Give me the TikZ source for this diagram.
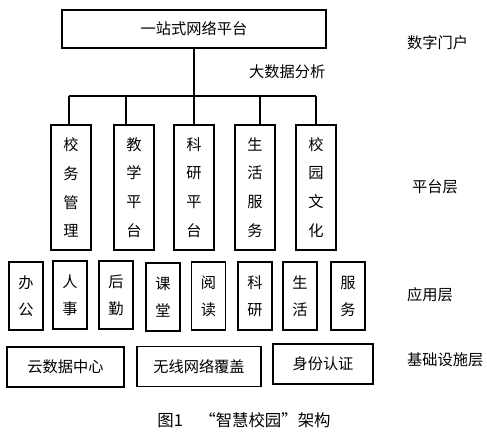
\documentclass[tikz,border=0pt]{standalone}
\usepackage{fontspec}
\setmainfont{Noto Sans CJK SC}
\usetikzlibrary{positioning}

\begin{document}
\begin{tikzpicture}[
    x=0.03cm, y=-0.03cm,
    font=\fontsize{13}{15}\selectfont,
    portal/.style={draw, line width=1pt, minimum width=7.92cm, minimum height=1.14cm, inner sep=0pt},
    plat/.style={draw, line width=1pt, minimum width=1.2cm, minimum height=3.75cm, align=center, inner sep=0pt, font=\fontsize{13}{24.6}\selectfont},
    app/.style={draw, line width=1pt, minimum width=1.02cm, minimum height=2.04cm, align=center, inner sep=0pt, font=\fontsize{13}{23}\selectfont},
    infra/.style={draw, line width=1pt, minimum height=1.2cm, inner sep=0pt},
    layer/.style={anchor=west},
    link/.style={line width=1pt},
]
\useasboundingbox (0,0) rectangle (487,435);

% --- Digital portal ---
\node[portal] (portal) at (194,29) {一站式网络平台};
\node[layer] (lportal) at (403,43) {数字门户};

% --- Big data bus ---
\coordinate (bus) at (194,96);
\coordinate (d1) at (69,96);
\coordinate (d2) at (126,96);
\coordinate (d3) at (194,96);
\coordinate (d4) at (260,96);
\coordinate (d5) at (316,96);
\draw[link] (portal.south) -- (bus);
\draw[link] (d1) -- (d5);
\node[layer] (bigdata) at (245,72) {大数据分析};

% --- Platform layer ---
\node[plat] (p1) at (71,187.5) {校\\务\\管\\理};
\node[plat] (p2) at (134,187.5) {教\\学\\平\\台};
\node[plat] (p3) at (194,187.5) {科\\研\\平\\台};
\node[plat] (p4) at (255,187.5) {生\\活\\服\\务};
\node[plat] (p5) at (316,187.5) {校\\园\\文\\化};
\node[layer] (lplat) at (408,187) {平台层};

\draw[link] (d1) -- (d1 |- p1.north);
\draw[link] (d2) -- (d2 |- p2.north);
\draw[link] (d3) -- (d3 |- p3.north);
\draw[link] (d4) -- (d4 |- p4.north);
\draw[link] (d5) -- (d5 |- p5.north);

% --- Application layer ---
\node[app] (a1) at (26,296) {办\\公};
\node[app] (a2) at (70,295) {人\\事};
\node[app] (a3) at (116,295) {后\\勤};
\node[app] (a4) at (163,297) {课\\堂};
\node[app] (a5) at (208.5,296) {阅\\读};
\node[app] (a6) at (255,296) {科\\研};
\node[app] (a7) at (300,296) {生\\活};
\node[app] (a8) at (348,296) {服\\务};
\node[layer] (lapp) at (403,295) {应用层};

% --- Infrastructure layer ---
\node[infra, minimum width=3.51cm] (i1) at (65.5,367) {云数据中心};
\node[infra, minimum width=3.72cm] (i2) at (199,366.5) {无线网络覆盖};
\node[infra, minimum width=3.0cm] (i3) at (323,364) {身份认证};
\node[layer] (linfra) at (403,360) {基础设施层};

% --- Caption ---
\node[font=\fontsize{14}{16}\selectfont] (caption) at (244,420) {图1\quad “智慧校园”架构};

\end{tikzpicture}
\end{document}
